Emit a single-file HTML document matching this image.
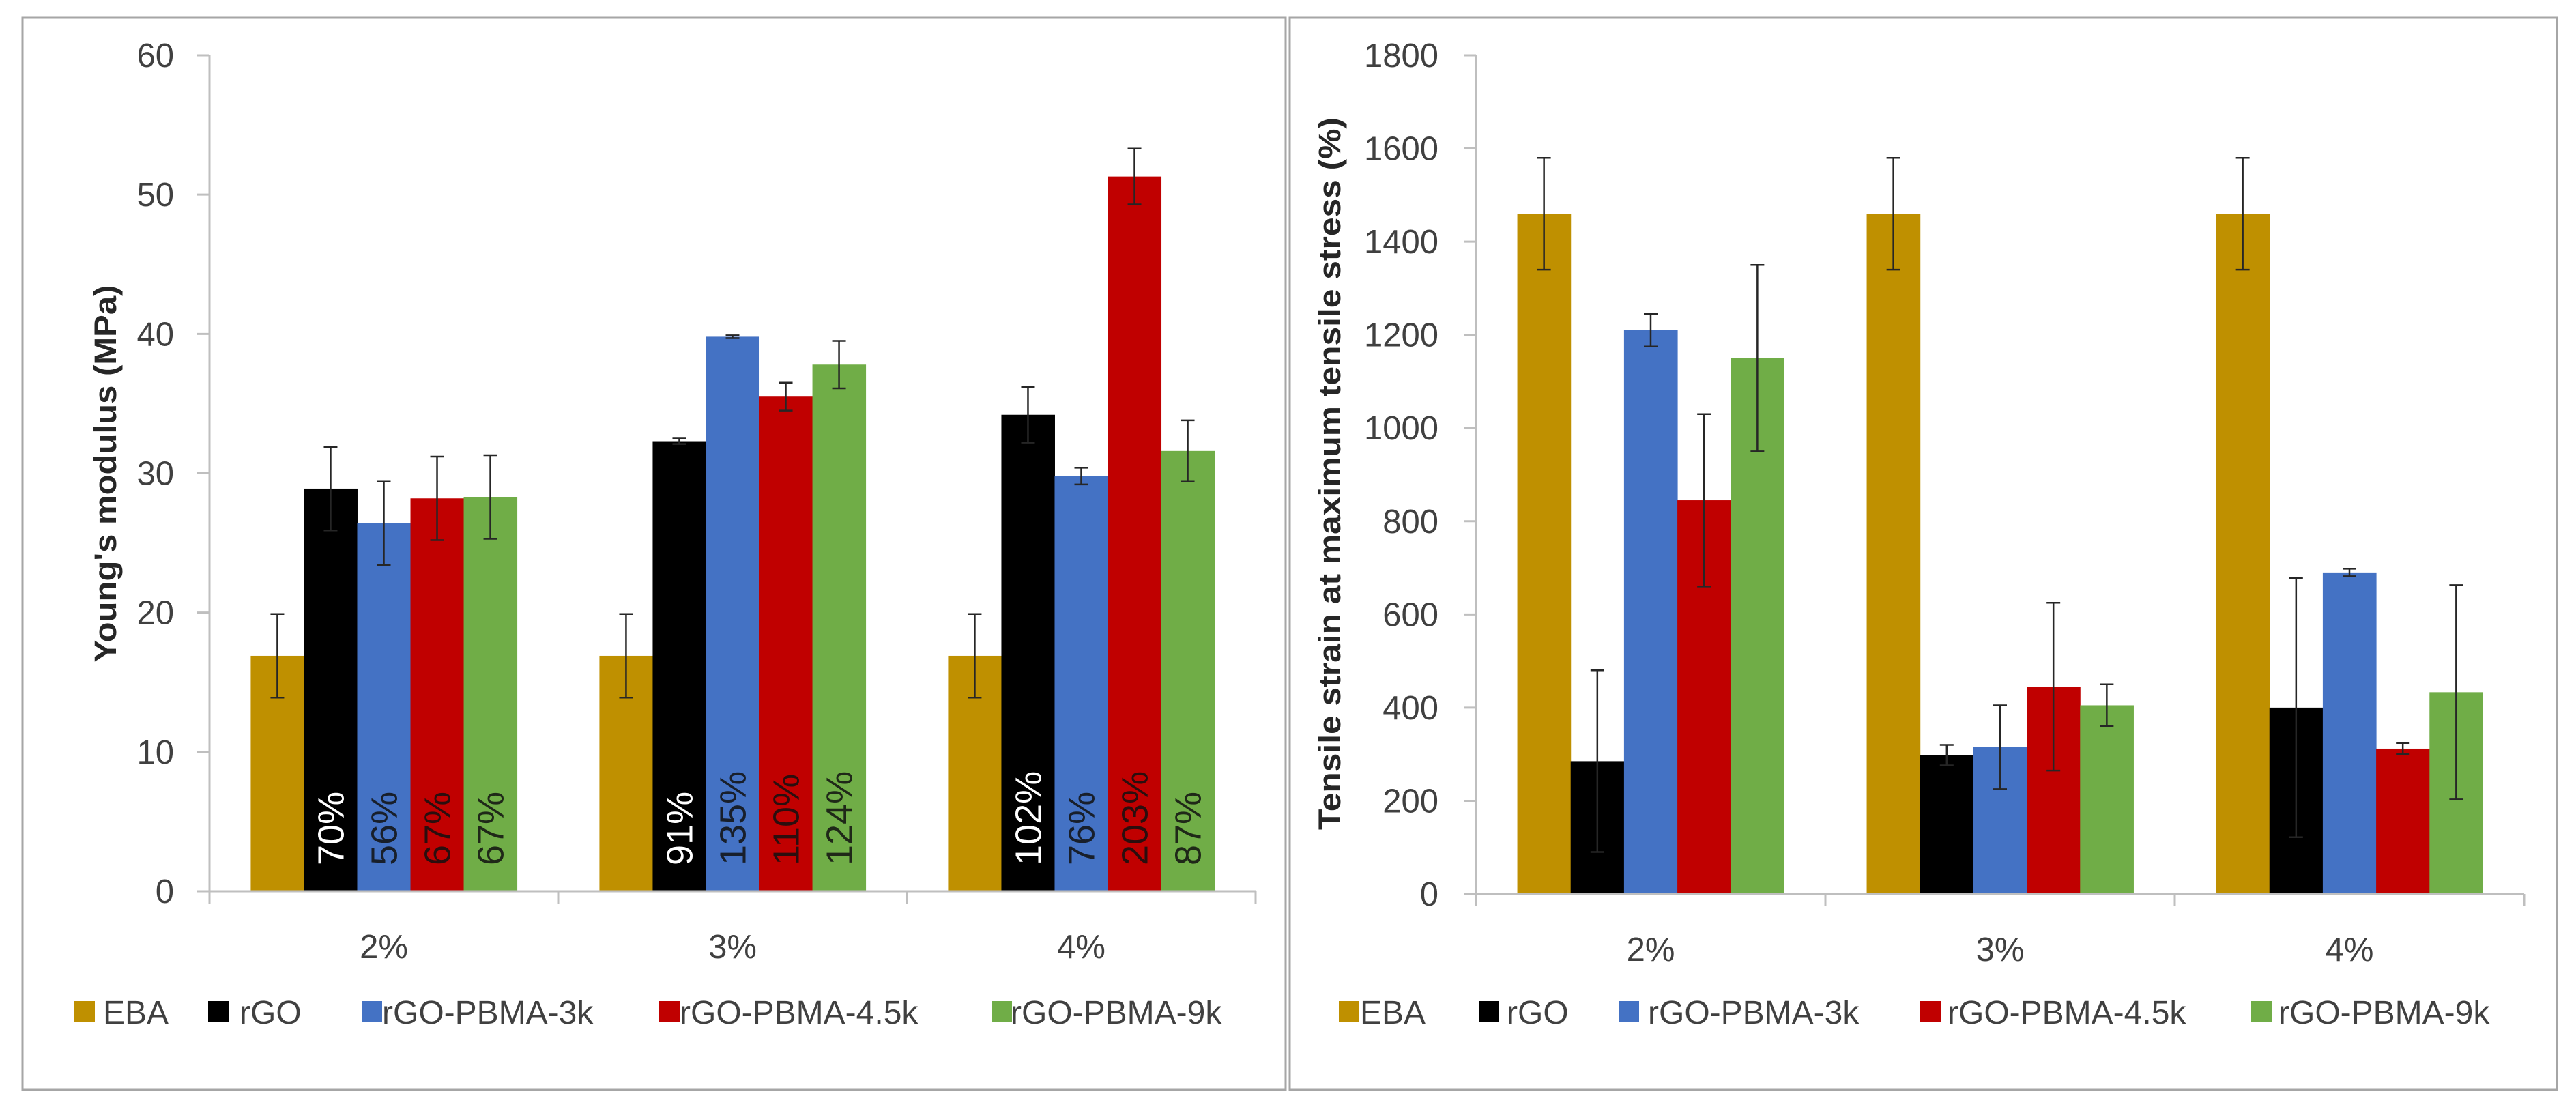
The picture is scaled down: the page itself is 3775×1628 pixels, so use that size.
<!DOCTYPE html>
<html><head><meta charset="utf-8"><style>
html,body{margin:0;padding:0;background:#fff;}
svg{display:block;font-family:"Liberation Sans",Arial,sans-serif;}
</style></head><body>
<svg id="svg" width="3775" height="1628" viewBox="0 0 3775 1628" xmlns="http://www.w3.org/2000/svg">
<rect x="0" y="0" width="3775" height="1628" fill="#fff"/>
<rect x="33" y="26" width="1851" height="1571" fill="none" stroke="#a6a6a6" stroke-width="3"/>
<rect x="1890" y="26" width="1857" height="1571" fill="none" stroke="#a6a6a6" stroke-width="3"/>
</svg>
<script>
const categories = ["2%", "3%", "4%"];
const seriesNames = ["EBA", "rGO", "rGO-PBMA-3k", "rGO-PBMA-4.5k", "rGO-PBMA-9k"];
const seriesColors = ["#bf9000", "#000000", "#4472c4", "#c00000", "#70ad47"];
const modulusEBA = [16.9, 16.9, 16.9];
const modulusRGO = [28.9, 32.3, 34.2];
const modulus3k = [26.4, 39.8, 29.8];
const modulus45k = [28.2, 35.5, 51.3];
const modulus9k = [28.3, 37.8, 31.6];
const modulusErrEBA = [3, 3, 3];
const modulusErrRGO = [3, 0.2, 2];
const modulusErr3k = [3, 0.1, 0.6];
const modulusErr45k = [3, 1, 2];
const modulusErr9k = [3, 1.7, 2.2];
const modulusLabelsRGO = ["70%", "91%", "102%"];
const modulusLabels3k = ["56%", "135%", "76%"];
const modulusLabels45k = ["67%", "110%", "203%"];
const modulusLabels9k = ["67%", "124%", "87%"];
const modulusTicks = [0, 10, 20, 30, 40, 50, 60];
const strainEBA = [1460, 1460, 1460];
const strainRGO = [285, 298, 400];
const strain3k = [1210, 315, 690];
const strain45k = [845, 445, 312];
const strain9k = [1150, 405, 433];
const strainErrEBA = [120, 120, 120];
const strainErrRGO = [195, 22, 278];
const strainErr3k = [35, 90, 8];
const strainErr45k = [185, 180, 12];
const strainErr9k = [200, 45, 230];
const strainTicks = [0, 200, 400, 600, 800, 1000, 1200, 1400, 1600, 1800];

const NS = "http://www.w3.org/2000/svg";
const svg = document.getElementById("svg");
function mk(tag, attrs, parent) {
  const e = document.createElementNS(NS, tag);
  for (const k in attrs) e.setAttribute(k, attrs[k]);
  (parent || svg).appendChild(e);
  return e;
}

function drawChart(cfg) {
  const g = mk("g", {});
  
  
  const x0 = cfg.x0, x1 = cfg.x1, yZ = cfg.yZero, yT = cfg.yTop, max = cfg.max;
  const yScale = v => yZ - (v / max) * (yZ - yT);
  const catW = (x1 - x0) / categories.length;
  const barW = catW * 0.1527;
  const offs = (catW - barW * 5) / 2;
  const xBar = (ci, si) => x0 + ci * catW + offs + si * barW;

  // y ticks
  cfg.ticks.forEach(t => {
    const y = yScale(t);
    const tk = mk("line", {x1: x0 - 18, x2: x0, y1: y, y2: y, stroke: "#bfbfbf", "stroke-width": 3}, g);
    
    
    const tl = mk("text", {x: cfg.labelX, y: y + 17, "text-anchor": "end", "font-size": 49, fill: "#404040"}, g);
    tl.textContent = t;
    
    
  });
  // bars
  cfg.series.forEach((vals, si) => {
    vals.forEach((v, ci) => {
      const x = xBar(ci, si), y = yScale(v);
      const r = mk("rect", {x: x, y: y, width: barW + 0.5, height: yZ - y, fill: seriesColors[si]}, g);
      
      
    });
  });
  // data labels
  if (cfg.labels) {
    cfg.labels.forEach((labs, li) => {
      if (!labs) return;
      labs.forEach((s, ci) => {
        const cx = xBar(ci, li) + barW / 2 + 19;
        const by = yZ - 38;
        const t = mk("text", {x: cx, y: by, transform: "rotate(-90 " + cx + " " + by + ")", "font-size": 54, fill: li === 1 ? "#ffffff" : "#111111", "fill-opacity": li === 1 ? 1 : 0.85}, g);
        t.textContent = s;
        
        
      });
    });
  }
  // error bars
  cfg.errors.forEach((errs, si) => {
    errs.forEach((e, ci) => {
      const cx = xBar(ci, si) + barW / 2, v = cfg.series[si][ci];
      const yh = yScale(v + e), yl = yScale(v - e);
      const eg = mk("g", {stroke: "#262626", "stroke-width": 2.5}, g);
      
      
      mk("line", {x1: cx, x2: cx, y1: yh, y2: yl}, eg);
      mk("line", {x1: cx - 10, x2: cx + 10, y1: yh, y2: yh}, eg);
      mk("line", {x1: cx - 10, x2: cx + 10, y1: yl, y2: yl}, eg);
    });
  });
  // axes
  const ya = mk("line", {x1: x0, x2: x0, y1: yT, y2: yZ + 18, stroke: "#bfbfbf", "stroke-width": 3}, g);
  
  
  const xa = mk("line", {x1: x0 - 18, x2: x1, y1: yZ, y2: yZ, stroke: "#bfbfbf", "stroke-width": 3}, g);
  
  
  for (let i = 1; i <= categories.length; i++) {
    const tx = x0 + i * catW;
    mk("line", {x1: tx, x2: tx, y1: yZ, y2: yZ + 18, stroke: "#bfbfbf", "stroke-width": 3}, g);
  }
  categories.forEach((c, ci) => {
    const t = mk("text", {x: x0 + (ci + 0.5) * catW, y: yZ + 98, "text-anchor": "middle", "font-size": 49, fill: "#404040"}, g);
    t.textContent = c;
    
    
  });
  // y title
  const tt = mk("text", {x: cfg.titleX, y: cfg.titleY, transform: "rotate(-90 " + cfg.titleX + " " + cfg.titleY + ")", "text-anchor": "middle", "font-size": 45, "font-weight": "bold", fill: "#262626", textLength: cfg.titleLen, lengthAdjust: "spacingAndGlyphs"}, g);
  tt.textContent = cfg.title;
  
  
  // legend
  const lg = mk("g", {}, g);
  
  
  seriesNames.forEach((n, si) => {
    const sq = mk("rect", {x: cfg.legSq[si], y: 1467, width: 30, height: 30, fill: seriesColors[si]}, lg);
    
    
    const t = mk("text", {x: cfg.legTx[si], y: 1500, "font-size": 48, fill: "#404040"}, lg);
    t.textContent = n;
    
    
  });
}

drawChart({
  name: "youngs-modulus-chart", x0: 307, x1: 1840, yZero: 1306, yTop: 81, max: 60,
  ticks: modulusTicks, labelX: 255,
  series: [modulusEBA, modulusRGO, modulus3k, modulus45k, modulus9k],
  errors: [modulusErrEBA, modulusErrRGO, modulusErr3k, modulusErr45k, modulusErr9k],
  labels: [null, modulusLabelsRGO, modulusLabels3k, modulusLabels45k, modulusLabels9k],
  title: "Young's modulus (MPa)", titleX: 170, titleY: 694, titleLen: 553,
  legSq: [109, 305, 530, 966, 1453], legTx: [151, 351, 560, 996, 1481]
});
drawChart({
  name: "tensile-strain-chart", x0: 2163, x1: 3699, yZero: 1310, yTop: 81, max: 1800,
  ticks: strainTicks, labelX: 2108,
  series: [strainEBA, strainRGO, strain3k, strain45k, strain9k],
  errors: [strainErrEBA, strainErrRGO, strainErr3k, strainErr45k, strainErr9k],
  labels: null,
  title: "Tensile strain at maximum tensile stress (%)", titleX: 1964, titleY: 694, titleLen: 1044,
  legSq: [1962, 2167, 2372, 2814, 3299], legTx: [1993, 2208, 2415, 2854, 3339]
});
</script>
</body></html>
